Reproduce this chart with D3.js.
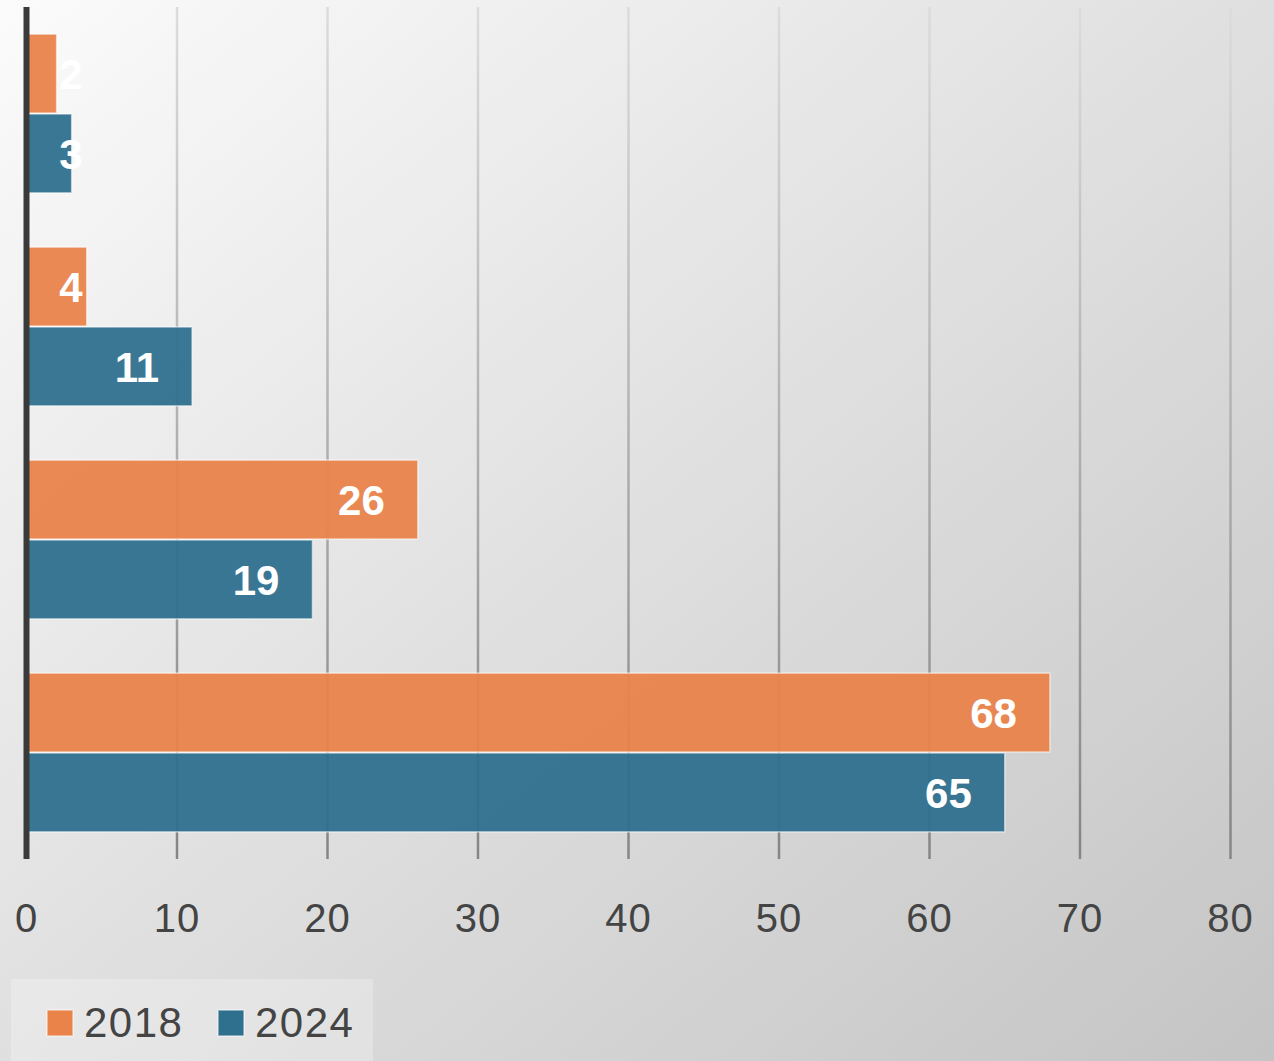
<!DOCTYPE html>
<html>
<head>
<meta charset="utf-8">
<script src="https://cdn.jsdelivr.net/npm/d3@7"></script>
<style>
  html, body { margin: 0; padding: 0; }
  body { width: 1274px; height: 1061px; overflow: hidden; }
  text { font-family: "Liberation Sans", Arial, sans-serif; }
</style>
</head>
<body>
<div id="chart"></div>
<script>
const categories = ["A", "B", "C", "D"];
const seriesNames = ["2018", "2024"];
const values2018 = [2, 4, 26, 68];
const values2024 = [3, 11, 19, 65];
const xTicks = [0, 10, 20, 30, 40, 50, 60, 70, 80];

const
    width = 1274,
    height = 1061,
    margin = { top: 7, right: 43, bottom: 202, left: 26.5 },
    colors = { "2018": "#E9834A", "2024": "#2F708E" };

const svg = d3.select("#chart").append("svg")
    .attr("width", width)
    .attr("height", height);

const defs = svg.append("defs");

const bg = defs.append("linearGradient")
    .attr("id", "bg")
    .attr("x1", 0).attr("y1", 0).attr("x2", 1).attr("y2", 1);
bg.append("stop").attr("offset", "0%").attr("stop-color", "#fbfbfb");
bg.append("stop").attr("offset", "100%").attr("stop-color", "#c4c4c4");

const gridGrad = defs.append("linearGradient")
    .attr("id", "gridGrad")
    .attr("gradientUnits", "userSpaceOnUse")
    .attr("x1", 0).attr("y1", margin.top).attr("x2", 0).attr("y2", height - margin.bottom);
gridGrad.append("stop").attr("offset", "0%").attr("stop-color", "#dcdcdc");
gridGrad.append("stop").attr("offset", "100%").attr("stop-color", "#858585");

svg.append("rect")
    .attr("width", width)
    .attr("height", height)
    .attr("fill", "url(#bg)");

var data = categories.map((c, i) => ({
    cat: c,
    vals: [
        { name: "2018", value: values2018[i] },
        { name: "2024", value: values2024[i] }
    ]
}));

var x = d3.scaleLinear()
    .domain([0, 80])
    .range([margin.left, margin.left + 80 * 15.05]);

var y = d3.scaleBand()
    .domain(categories)
    .range([margin.top, height - margin.bottom])
    .paddingInner(0.25)
    .paddingOuter(0.125);

var ySub = d3.scaleBand()
    .domain(seriesNames)
    .range([0, y.bandwidth()]);

// grid lines
svg.append("g")
    .selectAll("line")
    .data(xTicks.filter(d => d > 0))
    .join("line")
    .attr("x1", d => x(d))
    .attr("x2", d => x(d))
    .attr("y1", margin.top)
    .attr("y2", height - margin.bottom)
    .attr("stroke", "url(#gridGrad)")
    .attr("stroke-width", 2.5);

// bars
var groups = svg.append("g")
    .selectAll("g")
    .data(data)
    .join("g")
    .attr("transform", d => `translate(0,${y(d.cat)})`);

groups.selectAll("rect")
    .data(d => d.vals)
    .join("rect")
    .attr("x", x(0))
    .attr("y", d => ySub(d.name) + 0.5)
    .attr("width", d => x(d.value) - x(0))
    .attr("height", ySub.bandwidth() - 1)
    .attr("fill", d => colors[d.name])
    .attr("fill-opacity", 0.95)
    .attr("stroke", "#ffffff")
    .attr("stroke-opacity", 0.55)
    .attr("stroke-width", 1.5);

groups.selectAll("text")
    .data(d => d.vals)
    .join("text")
    .attr("x", d => Math.max(x(d.value) - 33, x(0) + 56))
    .attr("y", d => ySub(d.name) + ySub.bandwidth() / 2)
    .attr("dy", "0.36em")
    .attr("text-anchor", "end")
    .attr("fill", "#ffffff")
    .attr("font-weight", "bold")
    .attr("font-size", 42)
    .text(d => d.value);

// axis line
svg.append("line")
    .attr("x1", x(0))
    .attr("x2", x(0))
    .attr("y1", margin.top)
    .attr("y2", height - margin.bottom)
    .attr("stroke", "#3a3a3a")
    .attr("stroke-width", 6);

// tick labels
svg.append("g")
    .selectAll("text")
    .data(xTicks)
    .join("text")
    .attr("x", d => x(d))
    .attr("y", 918)
    .attr("dy", "0.36em")
    .attr("text-anchor", "middle")
    .attr("fill", "#444444")
    .attr("font-size", 40)
    .attr("letter-spacing", 1)
    .text(d => d);

// legend
var legend = svg.append("g");
legend.append("rect")
    .attr("x", 11)
    .attr("y", 979)
    .attr("width", 362)
    .attr("height", 90)
    .attr("fill", "#ffffff")
    .attr("fill-opacity", 0.25);

var legendPos = [47, 218];
seriesNames.forEach((s, i) => {
    legend.append("rect")
        .attr("x", legendPos[i])
        .attr("y", 1010)
        .attr("width", 26)
        .attr("height", 26)
        .attr("fill", colors[s])
        .attr("stroke", "#ffffff")
        .attr("stroke-opacity", 0.55)
        .attr("stroke-width", 1.5);
    legend.append("text")
        .attr("x", legendPos[i] + 37)
        .attr("y", 1022)
        .attr("dy", "0.36em")
        .attr("fill", "#444444")
        .attr("font-size", 42)
        .attr("letter-spacing", 1.5)
        .text(s);
});
</script>
</body>
</html>
